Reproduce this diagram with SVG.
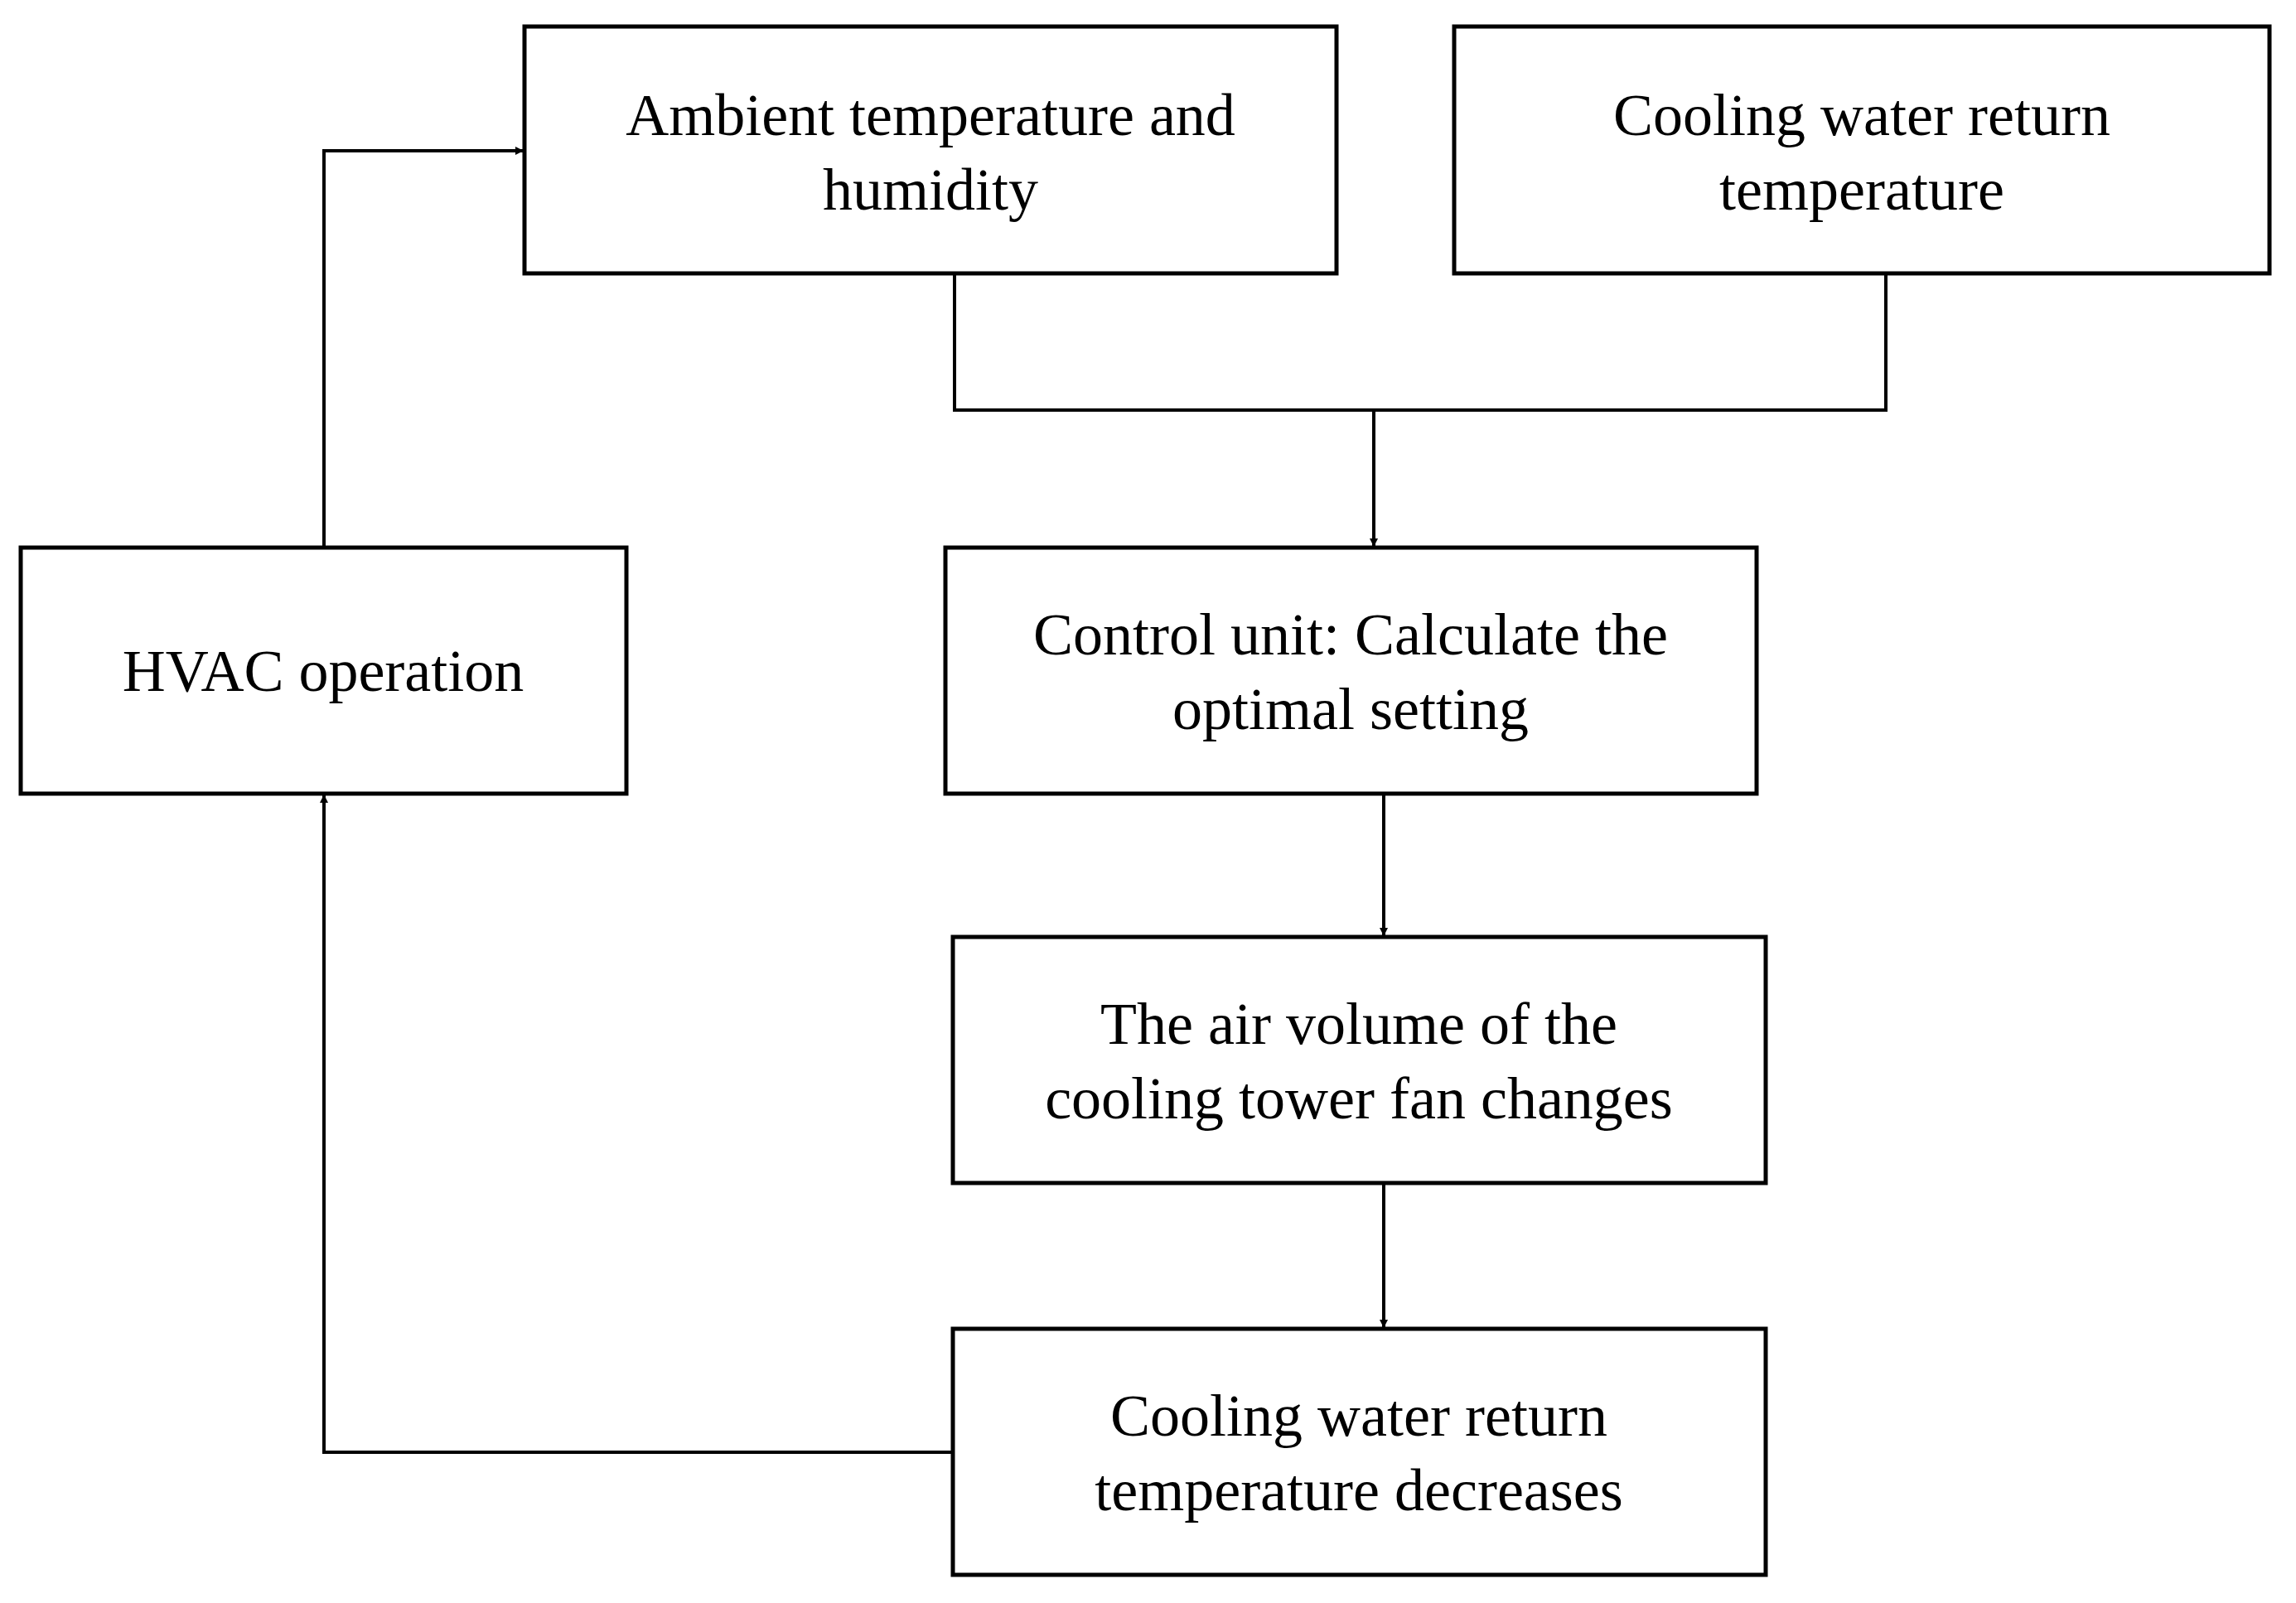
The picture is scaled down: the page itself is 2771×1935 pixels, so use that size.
<svg xmlns="http://www.w3.org/2000/svg" width="2771" height="1935" viewBox="0 0 2771 1935">
<style>
.b{fill:#fff;stroke:#000;stroke-width:5}
.t{font-family:"Liberation Serif",serif;font-size:72px;text-anchor:middle;fill:#000}
.c{fill:none;stroke:#000;stroke-width:4}
</style>
<defs><marker id="a" markerWidth="10" markerHeight="10" refX="9" refY="5" orient="auto" markerUnits="userSpaceOnUse" viewBox="0 0 10 10"><path d="M0,0L10,5L0,10z" fill="#000"/></marker></defs>
<rect width="2771" height="1935" fill="#fff"/>
<g id="connectors">
<path class="c" d="M1152,330V495H2276V330"/>
<path class="c" d="M1658,495V659" marker-end="url(#a)"/>
<path class="c" d="M1670,958V1129" marker-end="url(#a)"/>
<path class="c" d="M1670,1428V1602" marker-end="url(#a)"/>
<path class="c" d="M1150,1753H391V960" marker-end="url(#a)"/>
<path class="c" d="M391,661V182H631" marker-end="url(#a)"/>
</g>
<g id="ambient"><rect class="b" x="633" y="32" width="980" height="298"/><text class="t" x="1123" y="163">Ambient temperature and</text><text class="t" x="1123" y="253">humidity</text></g>
<g id="cwrt"><rect class="b" x="1755" y="32" width="984" height="298"/><text class="t" x="2247" y="163">Cooling water return</text><text class="t" x="2247" y="253">temperature</text></g>
<g id="hvac"><rect class="b" x="25" y="661" width="731" height="297"/><text class="t" x="390" y="834">HVAC operation</text></g>
<g id="control"><rect class="b" x="1141" y="661" width="979" height="297"/><text class="t" x="1630" y="790">Control unit: Calculate the</text><text class="t" x="1630" y="880">optimal setting</text></g>
<g id="air"><rect class="b" x="1150" y="1131" width="981" height="297"/><text class="t" x="1640" y="1260">The air volume of the</text><text class="t" x="1640" y="1350">cooling tower fan changes</text></g>
<g id="decrease"><rect class="b" x="1150" y="1604" width="981" height="297"/><text class="t" x="1640" y="1733">Cooling water return</text><text class="t" x="1640" y="1823">temperature decreases</text></g>
</svg>
